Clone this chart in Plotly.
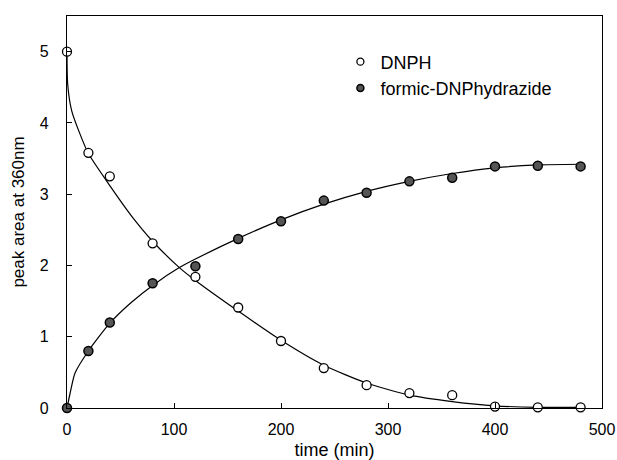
import plotly.graph_objects as go

time = [0, 20, 40, 80, 120, 160, 200, 240, 280, 320, 360, 400, 440, 480]
dnph = [5.0, 3.58, 3.25, 2.31, 1.84, 1.41, 0.94, 0.56, 0.32, 0.21, 0.18, 0.02, 0.01, 0.01]
formic = [0.0, 0.80, 1.20, 1.75, 1.99, 2.37, 2.62, 2.91, 3.02, 3.18, 3.23, 3.39, 3.40, 3.39]

# fitted curves
fit_t_dnph = [0, 0.6, 4.4, 12, 20, 40, 60, 80, 105, 120, 160, 200, 240, 280, 320, 360, 400, 440, 480]
fit_dnph = [5.0, 4.55, 4.17, 3.85, 3.57, 3.12, 2.7, 2.34, 1.97, 1.79, 1.36, 0.95, 0.6, 0.35, 0.18, 0.09, 0.03, 0.01, 0.01]
fit_t_formic = [0, 2.8, 7.5, 20, 40, 60, 80, 105, 120, 160, 200, 240, 280, 320, 360, 400, 440, 480]
fit_formic = [0.0, 0.2, 0.49, 0.8, 1.19, 1.48, 1.72, 1.97, 2.09, 2.38, 2.64, 2.86, 3.04, 3.18, 3.29, 3.37, 3.41, 3.42]

FONT = "Arial, Liberation Sans, sans-serif"
open_marker = dict(symbol="circle", color="white", line=dict(color="black", width=1.3))
filled_marker = dict(symbol="circle", color="#555555", line=dict(color="black", width=1.5))

fig = go.Figure()
fig.add_trace(go.Scatter(x=fit_t_dnph, y=fit_dnph, mode="lines", line=dict(color="black", width=1.2, shape="spline", smoothing=0.6), showlegend=False, hoverinfo="skip"))
fig.add_trace(go.Scatter(x=fit_t_formic, y=fit_formic, mode="lines", line=dict(color="black", width=1.2, shape="spline", smoothing=0.6), showlegend=False, hoverinfo="skip"))
fig.add_trace(go.Scatter(x=time, y=dnph, mode="markers", name="DNPH", cliponaxis=False, showlegend=False,
                         marker=dict(size=9, **open_marker)))
fig.add_trace(go.Scatter(x=time, y=formic, mode="markers", name="formic-DNPhydrazide", cliponaxis=False, showlegend=False,
                         marker=dict(size=9, **filled_marker)))
# legend entries (smaller symbols, as in the original)
fig.add_trace(go.Scatter(x=[None], y=[None], mode="markers", name="DNPH", marker=dict(size=7, **open_marker)))
fig.add_trace(go.Scatter(x=[None], y=[None], mode="markers", name="formic-DNPhydrazide", marker=dict(size=7, **filled_marker)))

axis_common = dict(showgrid=False, zeroline=False, showline=True, linecolor="black", linewidth=1.3, mirror=True,
                   ticks="inside", ticklen=5, tickcolor="black", tickwidth=1, automargin=False,
                   tickfont=dict(family=FONT, size=16, color="black"))
fig.update_layout(
    width=617, height=460,
    margin=dict(l=67, r=15, t=16, b=52, autoexpand=False),
    paper_bgcolor="white", plot_bgcolor="white",
    font=dict(family=FONT, size=16, color="black"),
    xaxis=dict(range=[0, 500], dtick=100, ticklabelstandoff=7,
               title=dict(text="time (min)", standoff=11, font=dict(size=18)), **axis_common),
    yaxis=dict(range=[0, 5.5], tickvals=[0, 1, 2, 3, 4, 5], ticklabelstandoff=14,
               title=dict(text="peak area at 360nm", standoff=10, font=dict(size=17)), **axis_common),
    legend=dict(x=0.511, y=0.93, xanchor="left", yanchor="top", bgcolor="rgba(0,0,0,0)", font=dict(size=18), itemwidth=30, tracegroupgap=0),
)
fig.write_html("out.html", config={"displayModeBar": False})

# remove the browser's default page margin so the figure sits at the window's corner
with open("out.html", "r", encoding="utf-8") as f:
    html = f.read()
html = html.replace("<head>", "<head><style>html,body{margin:0;padding:0;overflow:hidden;}</style>", 1)
with open("out.html", "w", encoding="utf-8") as f:
    f.write(html)
